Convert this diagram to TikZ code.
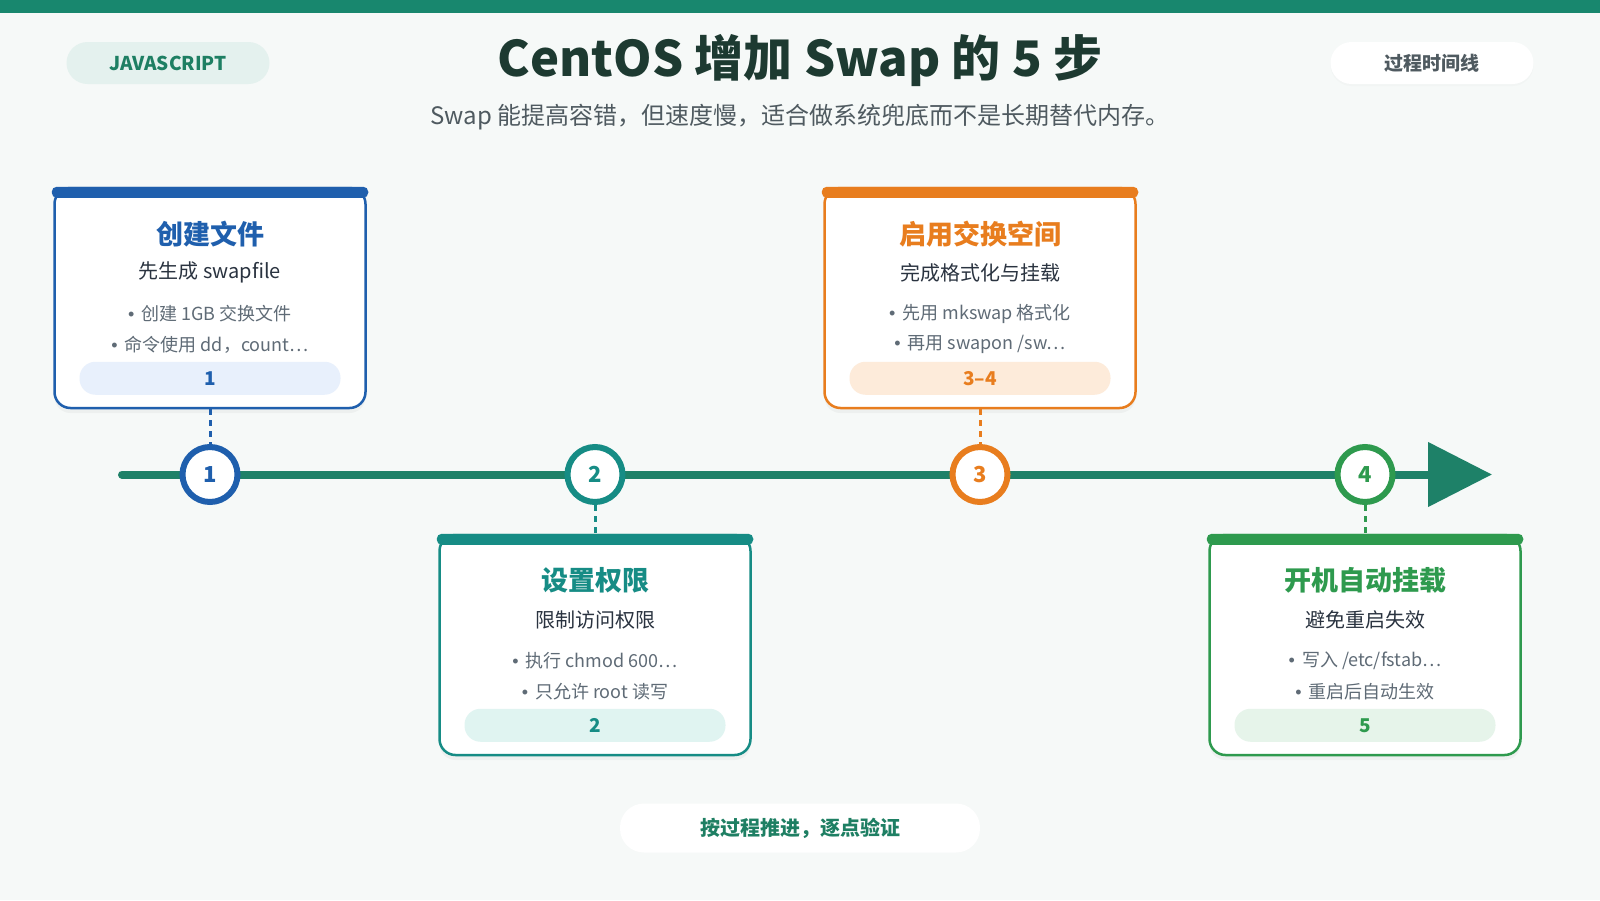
\documentclass[tikz,border=0pt]{standalone}
\usepackage{fontspec}
\setmainfont{Noto Sans CJK SC}
\newfontfamily\dotfont{Liberation Sans}
\usetikzlibrary{positioning, arrows.meta, shadows}

\definecolor{bgpage}{HTML}{F6F9F8}
\definecolor{topbar}{HTML}{18876E}
\definecolor{lineteal}{HTML}{1E8168}
\definecolor{titleink}{HTML}{1D3A31}
\definecolor{subink}{HTML}{4F5A60}
\definecolor{bodyink}{HTML}{2A3340}
\definecolor{bulletink}{HTML}{5F6B76}
\definecolor{cblue}{HTML}{1F5FAD}
\definecolor{cteal}{HTML}{168C85}
\definecolor{corange}{HTML}{E87D1E}
\definecolor{cgreen}{HTML}{2E9A4E}
\definecolor{bblue}{HTML}{E8F0FC}
\definecolor{bteal}{HTML}{E0F4F1}
\definecolor{borange}{HTML}{FDEBDA}
\definecolor{bgreen}{HTML}{E6F4EA}
\definecolor{pillgreen}{HTML}{E4F1EE}
\definecolor{pillink}{HTML}{1E7F63}

\begin{document}
\begin{tikzpicture}[x=1pt, y=-1pt,
		card/.style={draw=#1, line width=2.5pt, fill=white, rounded corners=16pt,
			minimum width=311pt, minimum height=220pt,
			drop shadow={shadow xshift=0pt, shadow yshift=-5pt, opacity=0.07}},
		cardtitle/.style={text=#1, font=\fontsize{27}{30}\selectfont\bfseries},
		cardsub/.style={text=bodyink, font=\fontsize{20}{23}\selectfont},
		bullet/.style={text=bulletink, font=\fontsize{18}{21}\selectfont},
		badge/.style={fill=#1, rounded corners=16pt, minimum width=261pt, minimum height=33pt,
			font=\fontsize{19}{22}\selectfont\bfseries},
		numdot/.style={circle, draw=#1, line width=6pt, fill=white, minimum size=55pt,
			inner sep=0pt, text=#1, font=\fontsize{22}{24}\selectfont\bfseries},
		link/.style={draw=#1, line width=3pt, dash pattern=on 6pt off 5pt},
		pill/.style={rounded corners=21pt, minimum width=203pt, minimum height=42pt,
			font=\fontsize{19}{22}\selectfont\bfseries}]
	% Page and header
	\fill[bgpage] (0,0) rectangle (1600,900);
	\useasboundingbox (0,0) rectangle (1600,900);
	\fill[topbar] (0,0) rectangle (1600,13);

	\node[pill, fill=pillgreen, text=pillink] (lang) at (168,63) {JAVASCRIPT};
	\node[pill, fill=white, text=subink, drop shadow={shadow xshift=0pt, shadow yshift=-2pt, opacity=0.03}] (kind) at (1432,63) {过程时间线};
	\node[text=titleink, font=\fontsize{49}{54}\selectfont\bfseries] (title) at (800,61) {CentOS 增加 Swap 的 5 步};
	\node[text=subink, font=\fontsize{24}{27}\selectfont] (subtitle) at (800,117) {Swap 能提高容错，但速度慢，适合做系统兜底而不是长期替代内存。};

	% Timeline with arrow
	\coordinate (tlstart) at (122,474.5);
	\coordinate (tlend) at (1492,474.5);
	\draw[lineteal, line width=8pt, line cap=round, -{Triangle[length=64pt, width=63pt]}] (tlstart) -- (tlend);

	% Step circles
	\node[numdot=cblue] (dot1) at (210,474.5) {1};
	\node[numdot=cteal] (dot2) at (595,474.5) {2};
	\node[numdot=corange] (dot3) at (980,474.5) {3};
	\node[numdot=cgreen] (dot4) at (1365,474.5) {4};

	% Card 1 (above)
	\node[card=cblue] (card1) at (210,298) {};
	\fill[cblue, rounded corners=5pt] ([xshift=-1.5pt]card1.north west) rectangle ([xshift=1.5pt, yshift=-11pt]card1.north east);
	\node[cardtitle=cblue] (title1) at ([yshift=-47pt]card1.north) {创建文件};
	\node[cardsub] (sub1) at ([yshift=-86pt]card1.north) {先生成 swapfile};
	\node[bullet] (item1a) at ([yshift=-127pt]card1.north) {{\dotfont •}\, 创建 1GB 交换文件};
	\node[bullet] (item1b) at ([yshift=-158pt]card1.north) {{\dotfont •}\, 命令使用 dd，count…};
	\node[badge=bblue, text=cblue] (badge1) at ([yshift=-191.5pt]card1.north) {1};
	\draw[link=cblue] (card1.south) -- (dot1.north);

	% Card 2 (below)
	\node[card=cteal] (card2) at (595,645) {};
	\fill[cteal, rounded corners=5pt] ([xshift=-1.5pt]card2.north west) rectangle ([xshift=1.5pt, yshift=-11pt]card2.north east);
	\node[cardtitle=cteal] (title2) at ([yshift=-47pt]card2.north) {设置权限};
	\node[cardsub] (sub2) at ([yshift=-86pt]card2.north) {限制访问权限};
	\node[bullet] (item2a) at ([yshift=-127pt]card2.north) {{\dotfont •}\, 执行 chmod 600…};
	\node[bullet] (item2b) at ([yshift=-158pt]card2.north) {{\dotfont •}\, 只允许 root 读写};
	\node[badge=bteal, text=cteal] (badge2) at ([yshift=-191.5pt]card2.north) {2};
	\draw[link=cteal] (dot2.south) -- (card2.north);

	% Card 3 (above)
	\node[card=corange] (card3) at (980,298) {};
	\fill[corange, rounded corners=5pt] ([xshift=-1.5pt]card3.north west) rectangle ([xshift=1.5pt, yshift=-11pt]card3.north east);
	\node[cardtitle=corange] (title3) at ([yshift=-47pt]card3.north) {启用交换空间};
	\node[cardsub] (sub3) at ([yshift=-86pt]card3.north) {完成格式化与挂载};
	\node[bullet] (item3a) at ([yshift=-127pt]card3.north) {{\dotfont •}\, 先用 mkswap 格式化};
	\node[bullet] (item3b) at ([yshift=-158pt]card3.north) {{\dotfont •}\, 再用 swapon /sw…};
	\node[badge=borange, text=corange] (badge3) at ([yshift=-191.5pt]card3.north) {3–4};
	\draw[link=corange] (card3.south) -- (dot3.north);

	% Card 4 (below)
	\node[card=cgreen] (card4) at (1365,645) {};
	\fill[cgreen, rounded corners=5pt] ([xshift=-1.5pt]card4.north west) rectangle ([xshift=1.5pt, yshift=-11pt]card4.north east);
	\node[cardtitle=cgreen] (title4) at ([yshift=-47pt]card4.north) {开机自动挂载};
	\node[cardsub] (sub4) at ([yshift=-86pt]card4.north) {避免重启失效};
	\node[bullet] (item4a) at ([yshift=-127pt]card4.north) {{\dotfont •}\, 写入 /etc/fstab…};
	\node[bullet] (item4b) at ([yshift=-158pt]card4.north) {{\dotfont •}\, 重启后自动生效};
	\node[badge=bgreen, text=cgreen] (badge4) at ([yshift=-191.5pt]card4.north) {5};
	\draw[link=cgreen] (dot4.south) -- (card4.north);

	% Footer
	\node[pill, fill=white, text=pillink, minimum width=360pt, minimum height=49pt, rounded corners=24pt,
		font=\fontsize{20}{23}\selectfont\bfseries] (footer) at (800,828) {按过程推进，逐点验证};
\end{tikzpicture}
\end{document}
